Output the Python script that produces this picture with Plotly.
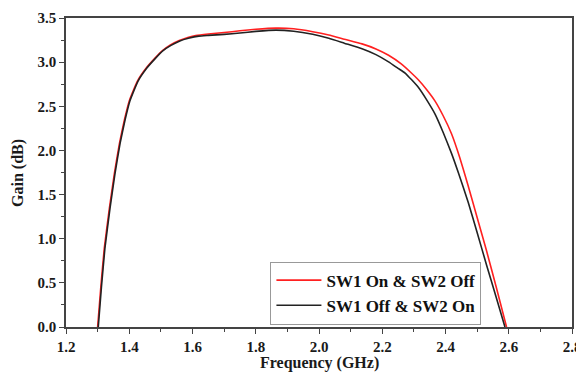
import plotly.graph_objects as go

freq_red = [1.300, 1.310, 1.321, 1.337, 1.353, 1.369, 1.385, 1.400, 1.425, 1.453, 1.480, 1.505, 1.530, 1.558, 1.585, 1.610,
            1.650, 1.700, 1.750, 1.800, 1.864, 1.920, 1.980, 2.031, 2.080, 2.136, 2.180, 2.220, 2.260, 2.293, 2.314,
            2.340, 2.367, 2.393, 2.419, 2.445, 2.470, 2.500, 2.530, 2.562, 2.593]
gain_red = [0.00, 0.45, 0.89, 1.34, 1.74, 2.08, 2.35, 2.56, 2.78, 2.93, 3.04, 3.13, 3.195, 3.245, 3.28, 3.30,
            3.318, 3.335, 3.355, 3.372, 3.385, 3.378, 3.345, 3.307, 3.26, 3.207, 3.15, 3.078, 2.98, 2.874, 2.80,
            2.69, 2.559, 2.39, 2.189, 1.92, 1.62, 1.24, 0.86, 0.43, 0.00]

freq_black = [1.302, 1.312, 1.323, 1.339, 1.355, 1.371, 1.387, 1.402, 1.427, 1.455, 1.482, 1.507, 1.532, 1.560, 1.587, 1.620,
              1.650, 1.700, 1.750, 1.800, 1.864, 1.920, 1.980, 2.031, 2.080, 2.136, 2.180, 2.220, 2.250, 2.273, 2.293,
              2.314, 2.340, 2.367, 2.393, 2.419, 2.441, 2.472, 2.500, 2.530, 2.560, 2.588]
gain_black = [0.00, 0.45, 0.89, 1.34, 1.74, 2.08, 2.35, 2.56, 2.78, 2.93, 3.04, 3.13, 3.19, 3.24, 3.27, 3.295,
              3.303, 3.315, 3.33, 3.348, 3.363, 3.35, 3.315, 3.27, 3.215, 3.152, 3.085, 3.003, 2.93, 2.874, 2.80,
              2.715, 2.575, 2.411, 2.20, 1.967, 1.744, 1.411, 1.07, 0.70, 0.34, 0.00]

names = ["SW1 On & SW2 Off", "SW1 Off & SW2 On"]

x_tickvals = [1.2, 1.4, 1.6, 1.8, 2.0, 2.2, 2.4, 2.6, 2.8]
x_ticklabels = ["1.2", "1.4", "1.6", "1.8", "2.0", "2.2", "2.4", "2.6", "2.8"]
y_tickvals = [0.0, 0.5, 1.0, 1.5, 2.0, 2.5, 3.0, 3.5]
y_ticklabels = ["0.0", "0.5", "1.0", "1.5", "2.0", "2.5", "3.0", "3.5"]
x_title = "Frequency (GHz)"
y_title = "Gain (dB)"

font_family = "Liberation Serif"
txt = "#1a1a1a"

fig = go.Figure()
fig.add_trace(go.Scatter(x=freq_red, y=gain_red, mode="lines", name="<b>%s</b>" % names[0],
                         line=dict(color="#ff2020", width=1.6, shape="spline", smoothing=0.4)))
fig.add_trace(go.Scatter(x=freq_black, y=gain_black, mode="lines", name="<b>%s</b>" % names[1],
                         line=dict(color="#222222", width=1.6, shape="spline", smoothing=0.4)))

axis_common = dict(
    showgrid=False, zeroline=False, showline=True, linecolor="#444444", linewidth=1.5,
    mirror=True, ticks="outside", ticklen=5, tickwidth=1.3, tickcolor="#444444",
    tickfont=dict(family=font_family, size=15, color=txt), automargin=False,
)

fig.update_xaxes(range=[1.2, 2.8], tickmode="array", tickvals=x_tickvals,
                 ticktext=["<b>%s</b>" % t for t in x_ticklabels],
                 minor=dict(ticks="outside", dtick=0.1, tick0=1.2, ticklen=3, tickcolor="#444444"),
                 **axis_common)
fig.update_yaxes(range=[0, 3.5], tickmode="array", tickvals=y_tickvals,
                 ticktext=["<b>%s</b>" % t for t in y_ticklabels],
                 minor=dict(ticks="outside", dtick=0.25, tick0=0, ticklen=3, tickcolor="#444444"),
                 **axis_common)

fig.add_annotation(text="<b>%s</b>" % x_title, xref="paper", yref="paper", x=0.5, y=-0.118,
                   xanchor="center", yanchor="middle", showarrow=False,
                   font=dict(family=font_family, size=16, color=txt))
fig.add_annotation(text="<b>%s</b>" % y_title, xref="paper", yref="paper", x=-0.096, y=0.5,
                   xanchor="center", yanchor="middle", textangle=-90, showarrow=False,
                   font=dict(family=font_family, size=16, color=txt))

# the page body adds an 8px offset, so the figure is sized to fit the 584x373 window
fig.update_layout(
    width=576, height=365,
    margin=dict(l=58, r=12, t=10, b=46),
    paper_bgcolor="white", plot_bgcolor="white",
    showlegend=True,
    legend=dict(x=0.404, y=0.008, xanchor="left", yanchor="bottom",
                bgcolor="white", bordercolor="#999999", borderwidth=1,
                font=dict(family=font_family, size=17, color="#111111"),
                tracegroupgap=0, itemwidth=45),
)

fig.write_html("out.html")
